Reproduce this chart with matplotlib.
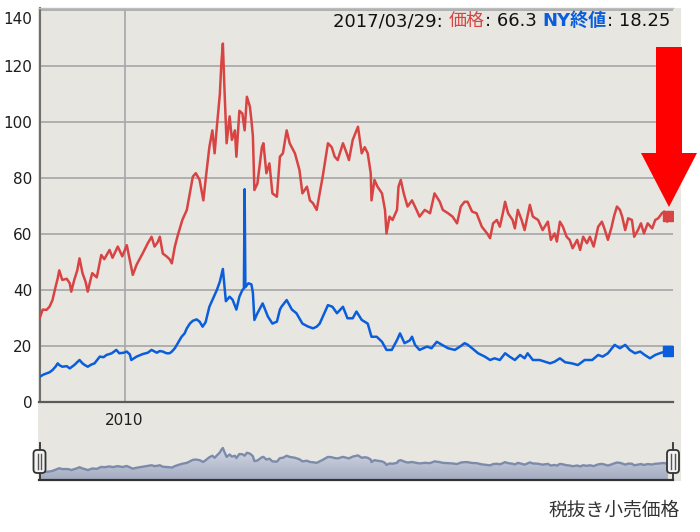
import matplotlib
matplotlib.use('Agg')
import matplotlib.pyplot as plt
import numpy as np
import matplotlib.transforms as mtransforms
from matplotlib.patches import Rectangle, Polygon, FancyBboxPatch
from matplotlib.lines import Line2D
from matplotlib.offsetbox import TextArea, HPacker, AnchoredOffsetbox
from matplotlib.colors import LinearSegmentedColormap

# ---------------- data (decimal years) ----------------
price_years = [
    2008.87, 2008.91, 2008.96, 2009.00, 2009.04, 2009.08, 2009.11, 2009.13, 2009.17, 2009.23,
    2009.27, 2009.29, 2009.33, 2009.37, 2009.40, 2009.44, 2009.48, 2009.51, 2009.55, 2009.57,
    2009.63, 2009.69, 2009.73, 2009.80, 2009.84, 2009.91, 2009.97, 2010.03, 2010.07, 2010.11,
    2010.16, 2010.24, 2010.31, 2010.36, 2010.40, 2010.44, 2010.47, 2010.51, 2010.56, 2010.60,
    2010.63, 2010.67, 2010.71, 2010.77, 2010.83, 2010.87, 2010.91, 2010.95, 2011.00, 2011.05,
    2011.09, 2011.13, 2011.17, 2011.20, 2011.23, 2011.27, 2011.29, 2011.31, 2011.33, 2011.36,
    2011.40, 2011.43, 2011.47, 2011.49, 2011.53, 2011.57, 2011.60, 2011.63, 2011.67, 2011.69,
    2011.71, 2011.73, 2011.77, 2011.83, 2011.85, 2011.89, 2011.93, 2011.97, 2012.03, 2012.07,
    2012.11, 2012.16, 2012.20, 2012.27, 2012.33, 2012.37, 2012.43, 2012.47, 2012.51, 2012.56,
    2012.60, 2012.64, 2012.71, 2012.76, 2012.80, 2012.84, 2012.91, 2012.96, 2012.99, 2013.04,
    2013.11, 2013.16, 2013.20, 2013.24, 2013.28, 2013.29, 2013.33, 2013.37, 2013.43, 2013.47,
    2013.49, 2013.53, 2013.57, 2013.63, 2013.65, 2013.68, 2013.72, 2013.77, 2013.83, 2013.89,
    2013.93, 2014.00, 2014.07, 2014.13, 2014.20, 2014.24, 2014.31, 2014.37, 2014.43, 2014.48,
    2014.53, 2014.57, 2014.63, 2014.69, 2014.76, 2014.83, 2014.87, 2014.91, 2014.96, 2015.00,
    2015.04, 2015.07, 2015.11, 2015.17, 2015.20, 2015.24, 2015.29, 2015.33, 2015.40, 2015.44,
    2015.51, 2015.57, 2015.64, 2015.68, 2015.73, 2015.76, 2015.80, 2015.84, 2015.89, 2015.93,
    2015.97, 2016.03, 2016.07, 2016.11, 2016.16, 2016.20, 2016.25, 2016.31, 2016.36, 2016.40,
    2016.44, 2016.49, 2016.52, 2016.56, 2016.60, 2016.63, 2016.67, 2016.71, 2016.76, 2016.79,
    2016.84, 2016.88, 2016.92, 2016.97, 2017.03, 2017.07, 2017.11, 2017.16, 2017.19, 2017.23,
    2017.24,
]
price_values = [
    30.0, 33.0, 32.9, 34.0, 36.4, 41.0, 44.2, 47.0, 43.6, 44.0,
    42.4, 39.4, 43.6, 47.0, 51.3, 46.0, 43.0, 39.4, 44.0, 46.0,
    44.5, 52.5, 51.0, 54.3, 51.5, 55.5, 52.0, 56.0, 50.7, 45.4,
    49.0, 53.0, 56.7, 59.0, 55.5, 57.0, 59.0, 53.0, 52.0, 51.0,
    49.5, 55.5, 59.6, 65.0, 68.6, 74.5, 80.5, 81.7, 79.3, 72.0,
    81.7, 91.0, 97.0, 88.8, 98.3, 110.0, 121.0, 128.0, 112.6, 92.4,
    102.0, 93.6, 97.0, 87.6, 104.0, 103.0, 97.0, 109.0, 105.5, 100.7,
    95.0, 75.7, 78.0, 91.0, 92.4, 81.7, 85.2, 74.5, 73.3, 87.6,
    88.8, 97.0, 92.4, 88.8, 82.9, 74.5, 76.9, 72.0, 71.0, 68.6,
    74.5, 80.5, 92.4, 91.0, 87.6, 86.4, 92.4, 88.8, 86.4, 93.6,
    98.3, 88.8, 91.0, 88.8, 81.7, 72.0, 79.3, 76.9, 74.5, 68.6,
    60.2, 66.2, 65.0, 68.6, 76.9, 79.3, 74.5, 69.8, 72.0, 68.6,
    66.2, 68.6, 67.4, 74.5, 71.5, 68.6, 67.4, 66.2, 63.8, 69.8,
    71.5, 71.5, 68.0, 67.4, 62.6, 60.2, 58.5, 63.8, 65.0, 62.6,
    67.4, 71.5, 67.4, 65.0, 62.0, 68.6, 65.0, 61.4, 70.4, 66.2,
    65.0, 61.4, 64.4, 57.9, 60.2, 57.3, 64.4, 62.6, 59.0, 57.9,
    54.9, 57.9, 54.3, 59.0, 56.7, 59.0, 55.5, 62.6, 64.4, 61.4,
    57.9, 62.6, 66.2, 69.8, 68.6, 66.2, 61.4, 65.6, 65.0, 59.0,
    61.4, 63.8, 60.2, 63.8, 62.0, 65.0, 65.6, 67.4, 68.0, 64.4,
    66.3,
]

ny_years = [
    2008.87, 2008.92, 2008.96, 2009.00, 2009.04, 2009.08, 2009.11, 2009.13, 2009.17, 2009.23,
    2009.27, 2009.31, 2009.33, 2009.37, 2009.40, 2009.44, 2009.47, 2009.51, 2009.56, 2009.60,
    2009.67, 2009.72, 2009.76, 2009.83, 2009.89, 2009.93, 2009.99, 2010.03, 2010.07, 2010.09,
    2010.16, 2010.24, 2010.31, 2010.36, 2010.43, 2010.47, 2010.51, 2010.56, 2010.60, 2010.63,
    2010.67, 2010.71, 2010.76, 2010.80, 2010.83, 2010.87, 2010.91, 2010.96, 2011.00, 2011.04,
    2011.08, 2011.13, 2011.17, 2011.23, 2011.27, 2011.31, 2011.35, 2011.40, 2011.44, 2011.49,
    2011.53, 2011.57, 2011.59, 2011.60, 2011.61, 2011.65, 2011.69, 2011.71, 2011.73, 2011.77,
    2011.84, 2011.91, 2011.97, 2012.03, 2012.07, 2012.09, 2012.16, 2012.23, 2012.29, 2012.37,
    2012.44, 2012.51, 2012.56, 2012.60, 2012.65, 2012.71, 2012.77, 2012.83, 2012.91, 2012.97,
    2013.04, 2013.09, 2013.16, 2013.24, 2013.29, 2013.36, 2013.43, 2013.49, 2013.56, 2013.63,
    2013.67, 2013.73, 2013.80, 2013.83, 2013.87, 2013.93, 2014.03, 2014.09, 2014.16, 2014.23,
    2014.31, 2014.40, 2014.47, 2014.53, 2014.57, 2014.63, 2014.71, 2014.80, 2014.87, 2014.93,
    2015.00, 2015.07, 2015.13, 2015.20, 2015.27, 2015.33, 2015.37, 2015.44, 2015.53, 2015.60,
    2015.67, 2015.73, 2015.80, 2015.87, 2015.96, 2016.04, 2016.13, 2016.23, 2016.31, 2016.37,
    2016.44, 2016.53, 2016.60, 2016.67, 2016.73, 2016.80, 2016.87, 2016.93, 2017.00, 2017.07,
    2017.13, 2017.20, 2017.24,
]
ny_values = [
    9.0, 9.8, 10.2, 10.6, 11.4, 12.6, 13.8, 13.2, 12.6, 12.8,
    12.0, 12.8, 13.2, 14.2, 15.0, 13.8, 13.2, 12.6, 13.4, 13.8,
    16.2, 16.0, 16.8, 17.4, 18.6, 17.4, 17.6, 18.0, 17.0, 15.0,
    16.2, 17.1, 17.6, 18.6, 17.6, 18.2, 18.0, 17.4, 17.4, 18.0,
    19.2, 21.0, 23.3, 24.5, 26.3, 28.0, 29.0, 29.5, 28.7, 26.9,
    28.5, 34.0, 36.4, 40.0, 43.0, 47.5, 36.0, 37.6, 36.5, 33.0,
    37.6, 40.0, 40.5, 76.0, 41.0, 42.4, 42.0, 39.0, 29.3, 31.7,
    35.2, 30.5, 28.0, 28.7, 33.0, 34.0, 36.4, 33.0, 31.7, 28.0,
    27.0, 26.3, 26.9, 28.0, 31.0, 34.6, 34.0, 31.7, 34.0, 29.9,
    29.9, 32.3, 29.3, 28.0, 23.3, 23.3, 21.5, 18.6, 18.6, 22.1,
    24.5, 21.0, 22.0, 23.3, 20.4, 18.6, 19.8, 19.2, 21.5, 20.4,
    19.2, 18.6, 19.8, 21.0, 20.5, 19.2, 17.4, 16.2, 15.0, 15.6,
    15.0, 17.4, 16.2, 15.0, 16.8, 15.6, 17.4, 15.0, 15.0, 14.4,
    13.8, 14.4, 15.6, 14.2, 13.8, 13.2, 15.0, 15.0, 16.8, 16.2,
    17.4, 20.4, 19.2, 20.4, 18.6, 17.4, 18.0, 16.8, 15.6, 16.8,
    17.4, 18.0, 18.25,
]

y_ticks = [0, 20, 40, 60, 80, 100, 120, 140]
x_ticks = [2010]
x_tick_labels = ['2010']

header_date = '2017/03/29'
header_price = '66.3'
header_ny = '18.25'

# ---------------- styling ----------------
RED = '#D84444'
BLUE = '#0A5EDC'
BG = '#E7E6E0'
GRID = '#ABABAB'

W, H = 700, 532
fig = plt.figure(figsize=(W / 100, H / 100), dpi=100)
fig.patch.set_facecolor('white')


def fx(px):
    return px / W


def fy(py):
    return 1 - py / H


fig.add_artist(Rectangle((fx(38), fy(481)), fx(681) - fx(38), fy(8) - fy(481),
                         transform=fig.transFigure, facecolor=BG,
                         edgecolor='none', zorder=0))

XMIN, XMAX = 2008.867, 2017.307

ax = fig.add_axes([fx(39.5), fy(402), fx(673) - fx(39.5), fy(8) - fy(402)])
ax.patch.set_alpha(0)
ax.set_xlim(XMIN, XMAX)
ax.set_ylim(0, 140.7)
ax.set_yticks(y_ticks)
ax.set_xticks(x_ticks)
ax.set_xticklabels(x_tick_labels)
ax.grid(True, color=GRID, lw=1.3, zorder=1)
ax.set_axisbelow(True)
ax.spines['right'].set_visible(False)
ax.spines['top'].set_color('#BDBDBD')
ax.spines['top'].set_linewidth(1.0)
ax.spines['left'].set_color('#707070')
ax.spines['left'].set_linewidth(1.5)
ax.spines['bottom'].set_color('#5A5A5A')
ax.spines['bottom'].set_linewidth(1.6)
ax.tick_params(axis='both', length=0, labelsize=11, colors='#1E1E1E')
ax.tick_params(axis='y', pad=5)
ax.tick_params(axis='x', pad=8)
top_lab = ax.yaxis.get_major_ticks()[-1].label1
top_lab.set_verticalalignment('top')
top_lab.set_transform(top_lab.get_transform() +
                      mtransforms.ScaledTranslation(0, -0.02, fig.dpi_scale_trans))

ax.plot(price_years, price_values, color=RED, lw=1.8, zorder=3,
        solid_joinstyle='round')
ax.plot(ny_years, ny_values, color=BLUE, lw=1.8, zorder=4,
        solid_joinstyle='round')
ax.plot(price_years[-1], price_values[-1], 's', ms=7, color=RED, zorder=5)
ax.plot(ny_years[-1], ny_values[-1], 's', ms=7, color=BLUE, zorder=5)

# ---------------- header ----------------
FAM = ['DejaVu Sans', 'Noto Sans CJK JP']
base = dict(size=13, family=FAM)
parts = [
    TextArea(header_date + ': ', textprops=dict(color='#111111', **base)),
    TextArea('価格', textprops=dict(color=RED, **base)),
    TextArea(': ' + header_price + ' ', textprops=dict(color='#111111', **base)),
    TextArea('NY終値', textprops=dict(color=BLUE, weight='bold', **base)),
    TextArea(': ' + header_ny, textprops=dict(color='#111111', **base)),
]
box = HPacker(children=parts, align='baseline', pad=0, sep=0)
anch = AnchoredOffsetbox(loc='upper right', child=box, pad=0, borderpad=0,
                         frameon=False, bbox_to_anchor=(fx(670), fy(12)),
                         bbox_transform=fig.transFigure)
fig.add_artist(anch)

# ---------------- red arrow ----------------
arrow_px = [(656, 47), (682, 47), (682, 153), (697, 153), (669, 207),
            (641, 153), (656, 153)]
fig.add_artist(Polygon([(fx(a), fy(b)) for a, b in arrow_px], closed=True,
                       transform=fig.transFigure, facecolor='#FF0000',
                       edgecolor='none', zorder=10))

# ---------------- navigator ----------------
nav = fig.add_axes([fx(39.5), fy(480), fx(673) - fx(39.5), fy(430) - fy(480)])
nav.patch.set_alpha(0)
for s in ['top', 'right', 'left']:
    nav.spines[s].set_visible(False)
nav.spines['bottom'].set_color('#333333')
nav.spines['bottom'].set_linewidth(1.6)
nav.set_xticks([])
nav.set_yticks([])
fill = nav.fill_between(price_years, 0, price_values, facecolor='none',
                        edgecolor='none')
cmap = LinearSegmentedColormap.from_list('nav', ['#A3ABC0', '#D6DAE6'])
grad = np.linspace(0, 1, 256).reshape(-1, 1)
im = nav.imshow(grad, extent=[XMIN, XMAX, 0, 130], origin='lower', aspect='auto',
                cmap=cmap, zorder=1)
im.set_clip_path(fill.get_paths()[0], transform=nav.transData)
nav.set_xlim(XMIN, XMAX)
nav.set_ylim(0, 200)
nav.plot(price_years, price_values, color='#7D8BAB', lw=1.7, zorder=2)

ident = mtransforms.IdentityTransform()
for hx in (39.5, 673):
    fig.add_artist(Line2D([hx, hx], [H - 443, H - 480], transform=ident,
                          color='#333333', lw=1.3, zorder=11))
    fig.add_artist(FancyBboxPatch((hx - 6, H - 473), 12, 23,
                                  boxstyle='round,pad=0,rounding_size=3.5',
                                  transform=ident, facecolor='#F2F2F2',
                                  edgecolor='#333333', lw=1.3, zorder=12))
    for dx in (-1.8, 1.8):
        fig.add_artist(Line2D([hx + dx, hx + dx], [H - 454, H - 469],
                              transform=ident, color='#555555', lw=1.0,
                              zorder=13))

fig.text(fx(680), fy(510), '税抜き小売価格', ha='right', va='center',
         fontsize=13.5, family=['Noto Sans CJK JP', 'DejaVu Sans'],
         color='#333333')

fig.savefig('out.png', dpi=100, facecolor='white')
